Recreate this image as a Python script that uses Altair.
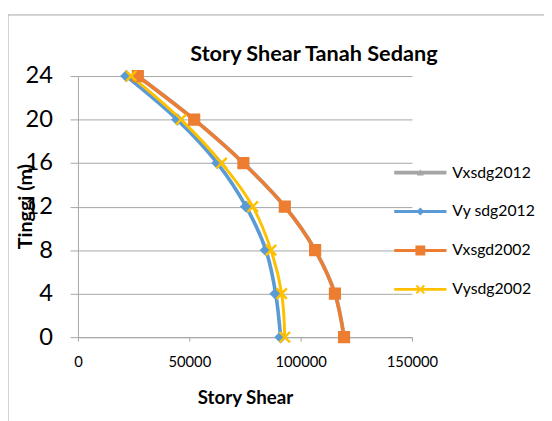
import altair as alt
import pandas as pd

heights = [0, 4, 8, 12, 16, 20, 24]
series_names = ["Vxsdg2012", "Vy sdg2012", "Vxsgd2002", "Vysdg2002"]
vxsgd2002 = [119500, 115400, 106500, 92900, 74300, 52200, 26900]
vxsdg2012 = [119500, 115400, 106500, 92900, 74300, 52200, 26900]
vysdg2012 = [91000, 88800, 84400, 75500, 62600, 44600, 21700]
vysdg2002 = [92900, 91500, 86700, 78500, 64500, 46300, 23900]
x_ticks = [0, 50000, 100000, 150000]
y_ticks = [0, 4, 8, 12, 16, 20, 24]

colors = ["#A5A5A5", "#5B9BD5", "#ED7D31", "#FFC000"]
values = {"Vxsdg2012": vxsdg2012, "Vy sdg2012": vysdg2012,
          "Vxsgd2002": vxsgd2002, "Vysdg2002": vysdg2002}

rows = []
for i, s in enumerate(series_names):
    for h, v in zip(heights, values[s]):
        rows.append({"series": s, "idx": i, "h": h, "v": v})
df = pd.DataFrame(rows)

FONT = "Lato"

x = alt.X("v:Q", scale=alt.Scale(domain=[0, 150000], nice=False),
          axis=alt.Axis(values=x_ticks, title="Story Shear", format="d",
                        grid=False, labelFontSize=15, labelPadding=14,
                        labelFlush=False,
                        tickSize=4, titleFontSize=19, titleFontWeight="bold",
                        titlePadding=19, labelFont=FONT, titleFont=FONT,
                        domainColor="#a6a6a6", tickColor="#a6a6a6",
                        labelColor="#000", titleColor="#000"))
y = alt.Y("h:Q", scale=alt.Scale(domain=[0, 24], nice=False),
          axis=alt.Axis(values=y_ticks, title="Tinggi (m)", grid=True,
                        gridColor="#a6a6a6", labelFontSize=24, labelPadding=18,
                        labelFlush=False,
                        tickSize=8, titleFontSize=20, titleFontWeight="bold",
                        titleX=-53, titleY=132, titleBaseline="middle",
                        titleAngle=270, labelFont=FONT, titleFont=FONT,
                        domainColor="#a6a6a6", tickColor="#a6a6a6",
                        labelColor="#000", titleColor="#000"))

cscale = alt.Scale(domain=series_names, range=colors)

lines = alt.Chart(df).mark_line(interpolate="catmull-rom").encode(
    x=x, y=y,
    color=alt.Color("series:N", scale=cscale, legend=None),
    strokeWidth=alt.StrokeWidth("series:N",
                                scale=alt.Scale(domain=series_names, range=[4, 3, 4, 3.5]),
                                legend=None),
    order="h:Q",
    detail="series:N",
)

xpath = "M-1,-1L1,1M-1,1L1,-1"
points = alt.Chart(df).mark_point(filled=True, opacity=1, strokeWidth=2.5).encode(
    x=x, y=y,
    color=alt.Color("series:N", scale=cscale, legend=None),
    stroke=alt.Stroke("series:N", scale=cscale, legend=None),
    shape=alt.Shape("series:N", scale=alt.Scale(domain=series_names,
                    range=["triangle-up", "diamond", "square", xpath]), legend=None),
    size=alt.Size("series:N", scale=alt.Scale(domain=series_names, range=[70, 110, 230, 300]),
                  legend=None),
)

# legend symbols: line + marker as filled paths
line_g = "M-5.3,-0.4H5.3V0.4H-5.3Z"
line_n = "M-5.3,-0.3H5.3V0.3H-5.3Z"
tri = "M0,-0.7L0.7,0.6L-0.7,0.6Z"
dia = "M0,-0.8L0.8,0L0,0.8L-0.8,0Z"
sq = "M-1,-1H1V1H-1Z"
xs = ("M-0.659,-0.941L0.941,0.659L0.659,0.941L-0.941,-0.659Z"
      "M-0.659,0.941L-0.941,0.659L0.659,-0.941L0.941,-0.659Z")
leg_paths = [line_g + tri, line_n + dia, line_n + sq, line_n + xs]

leg = alt.Legend(title=None, orient="none", legendX=339.5,
                 legendY=90, symbolSize=100, symbolStrokeWidth=0,
                 labelFontSize=16, labelFont=FONT,
                 labelOffset=24.5, rowPadding=23.5, padding=0,
                 labelColor="#000", labelBaseline="middle")

legend_layer = alt.Chart(df).transform_filter("false").mark_point(
    filled=True, opacity=1).encode(
    x=x, y=y,
    color=alt.Color("series:N", scale=cscale, legend=leg),
    shape=alt.Shape("series:N", scale=alt.Scale(domain=series_names, range=leg_paths),
                    legend=leg),
)

frame_top = alt.Chart(pd.DataFrame({"a": [0]})).mark_rule(
    color="#a6a6a6", strokeWidth=1, clip=False).encode(
    x=alt.value(-71), x2=alt.value(480), y=alt.value(-62))
frame_left = alt.Chart(pd.DataFrame({"a": [0]})).mark_rule(
    color="#a6a6a6", strokeWidth=1, clip=False).encode(
    x=alt.value(-71), y=alt.value(-62), y2=alt.value(360))

chart = alt.layer(frame_top, frame_left, lines, points, legend_layer).resolve_scale(
    color="independent", shape="independent", stroke="independent",
    size="independent", strokeWidth="independent"
).properties(
    width=339, height=265,
    title=alt.TitleParams("Story Shear Tanah Sedang", fontSize=22, fontWeight="bold",
                          font=FONT, anchor="middle", dx=70, offset=-62,
                          baseline="middle", color="#000"),
    padding={"left": 71, "top": 66, "right": 134, "bottom": 82},
    autosize=alt.AutoSizeParams(type="none"),
).configure_view(stroke=None)

chart.save("out.html", embed_options={"renderer": "svg", "actions": False})
